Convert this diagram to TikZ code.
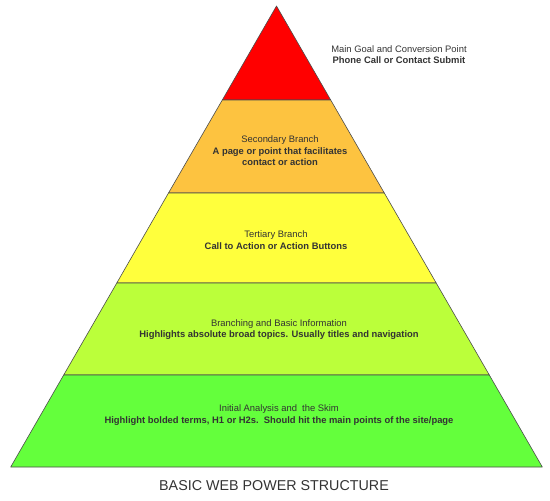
\documentclass[tikz,border=0pt]{standalone}
\usepackage{fontspec}
\setmainfont{Liberation Sans}
\usetikzlibrary{positioning}

\definecolor{topred}{RGB}{255,0,0}
\definecolor{secorange}{RGB}{253,195,64}
\definecolor{teryellow}{RGB}{255,255,60}
\definecolor{branchlime}{RGB}{187,255,58}
\definecolor{skimgreen}{RGB}{100,255,60}
\definecolor{labelgray}{RGB}{51,51,51}

\tikzset{
    band/.style={draw=black!70, line width=0.6pt, line join=round},
    label/.style={align=center, text=labelgray, font=\fontsize{9.4}{11.6}\selectfont},
}

\begin{document}
\begin{tikzpicture}[x=1pt, y=-1pt]
    \useasboundingbox (0,0) rectangle (550,501);

    % Pyramid bands, top to bottom
    \draw[band, fill=topred] (276.5,6) -- (330.7,100) -- (222.3,100) -- cycle;
    \draw[band, fill=secorange] (222.3,100) -- (330.7,100) -- (384.3,193) -- (168.5,193) -- cycle;
    \draw[band, fill=teryellow] (168.5,193) -- (384.3,193) -- (436.2,283) -- (116.8,283) -- cycle;
    \draw[band, fill=branchlime] (116.8,283) -- (436.2,283) -- (489.3,375) -- (63.7,375) -- cycle;
    \draw[band, fill=skimgreen] (63.7,375) -- (489.3,375) -- (542.3,467) -- (10.7,467) -- cycle;

    % Labels
    \node[label] (goal) at (399,54.5) {Main Goal and Conversion Point\\\textbf{Phone Call or Contact Submit}};
    \node[label] (secondary) at (280,151) {Secondary Branch\\\textbf{A page or point that facilitates}\\\textbf{contact or action}};
    \node[label] (tertiary) at (276,240) {Tertiary Branch\\\textbf{Call to Action or Action Buttons}};
    \node[label] (branching) at (279,329.5) {Branching and Basic Information\\\textbf{Highlights absolute broad topics. Usually titles and navigation}};
    \node[label] (skim) at (279,415) {Initial Analysis and\ \ the Skim\\\textbf{Highlight bolded terms, H1 or H2s.\ \ Should hit the main points of the site/page}};

    % Title
    \node[text=labelgray, font=\fontsize{14.3}{17}\selectfont] (title) at (274,486) {BASIC WEB POWER STRUCTURE};
\end{tikzpicture}
\end{document}
